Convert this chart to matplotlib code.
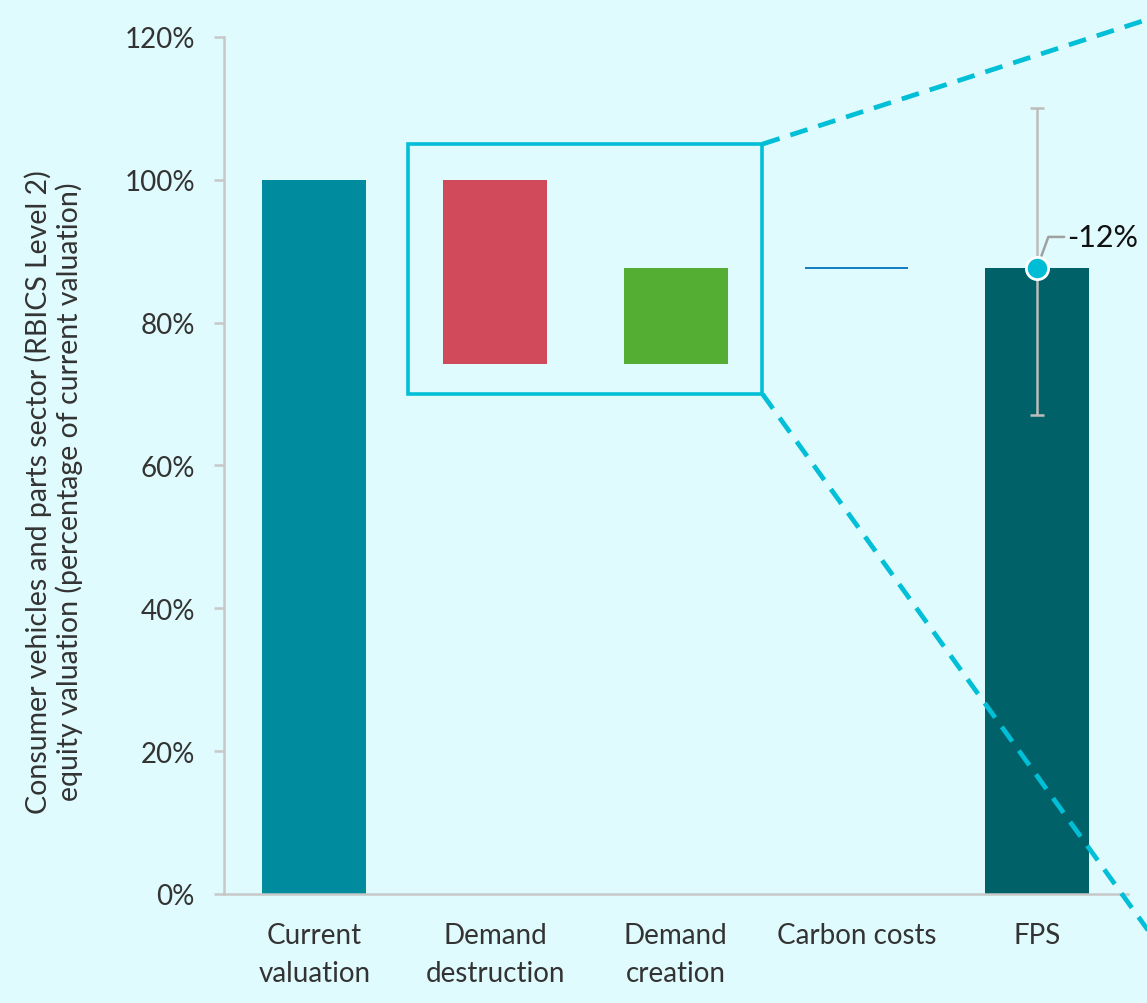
import matplotlib.pyplot as plt
from matplotlib.patches import Rectangle

plt.rcParams['font.family'] = ['Lato', 'DejaVu Sans']

categories = ['Current\nvaluation', 'Demand\ndestruction', 'Demand\ncreation', 'Carbon costs', 'FPS']
steps = [100.0, -25.8, 13.5, 0.0]      # waterfall moves
fps_value = 87.7
fps_low = 67.1
fps_high = 110.0
fps_label = '-12%'
yticks = [0, 20, 40, 60, 80, 100, 120]

BG = '#E0FBFD'
GRID = '#C8C8C8'
TXT = '#333333'
CYAN = '#00BFD6'

fig = plt.figure(figsize=(11.47, 10.04), dpi=100, facecolor=BG)
ax = fig.add_axes([0.1953, 0.1086, 0.7877, 0.8536])
ax.set_facecolor(BG)

x = list(range(len(categories)))
w = 0.575

# current valuation
ax.bar(x[0], steps[0], w, color='#008C9E', zorder=2)
# demand destruction / creation as floating bars
level = steps[0]
bottoms, heights = [], []
for s in steps[1:3]:
    lo = min(level, level + s)
    bottoms.append(lo)
    heights.append(abs(s))
    level += s
ax.bar(x[1], heights[0], w, bottom=bottoms[0], color='#D04A5C', zorder=2)
ax.bar(x[2], heights[1], w, bottom=bottoms[1], color='#53AE33', zorder=2)
# carbon costs (no visible change)
level += steps[3]
ax.hlines(level, x[3] - w / 2, x[3] + w / 2, color='#0072BC', lw=1.3, zorder=2)
# FPS
ax.bar(x[4], fps_value, w, color='#006169', zorder=2)
ax.errorbar(x[4], fps_value, yerr=[[fps_value - fps_low], [fps_high - fps_value]],
            fmt='none', ecolor='#BDBDBD', elinewidth=1.8, capsize=5, capthick=1.8, zorder=3)
ax.plot(x[4], fps_value, 'o', ms=16, mfc='#00BCD4', mec='white', mew=2, zorder=4)
ax.annotate(fps_label, xy=(x[4], fps_value), xytext=(x[4] + 0.165, fps_value + 4.3),
            fontsize=22, color='#111111', va='center', ha='left',
            arrowprops=dict(arrowstyle='-', color='#A0A0A0', lw=1.8,
                            connectionstyle='angle,angleA=180,angleB=70,rad=0',
                            shrinkA=0, shrinkB=9))

# zoom box around the demand bars
bx0, bx1 = x[1] - 0.48, x[2] + 0.48
by0, by1 = 70.0, 105.0
ax.add_patch(Rectangle((bx0, by0), bx1 - bx0, by1 - by0, fill=False,
                       ec=CYAN, lw=2.6, zorder=5, clip_on=False))
ax.plot([bx1, bx1 + 2.6], [by1, by1 + 21.3], color=CYAN, lw=3.4, dashes=(3.8, 2.4),
        clip_on=False, zorder=5)
ax.plot([bx1, bx1 + 2.6], [by0, by0 - 91.5], color=CYAN, lw=3.4, dashes=(3.8, 2.4),
        clip_on=False, zorder=5)

ax.set_xlim(-0.5, 4.5)
ax.set_ylim(0, 120)
ax.set_yticks(yticks)
ax.set_yticklabels([f'{v}%' for v in yticks])
ax.set_xticks(x)
ax.set_xticklabels(categories, linespacing=1.6)
ax.tick_params(axis='y', length=7, width=1.8, color=GRID, pad=14, labelsize=20, labelcolor=TXT)
ax.tick_params(axis='x', length=0, pad=20, labelsize=20, labelcolor=TXT)
for s in ['top', 'right']:
    ax.spines[s].set_visible(False)
for s in ['left', 'bottom']:
    ax.spines[s].set_color(GRID)
    ax.spines[s].set_linewidth(1.8)
ax.spines['left'].set_zorder(1)

fig.text(0.047, 0.51, 'Consumer vehicles and parts sector (RBICS Level 2)\nequity valuation (percentage of current valuation)',
         rotation=90, ha='center', va='center', fontsize=20.5, color=TXT, linespacing=1.15)

fig.savefig('out.png', dpi=100, facecolor=BG)
